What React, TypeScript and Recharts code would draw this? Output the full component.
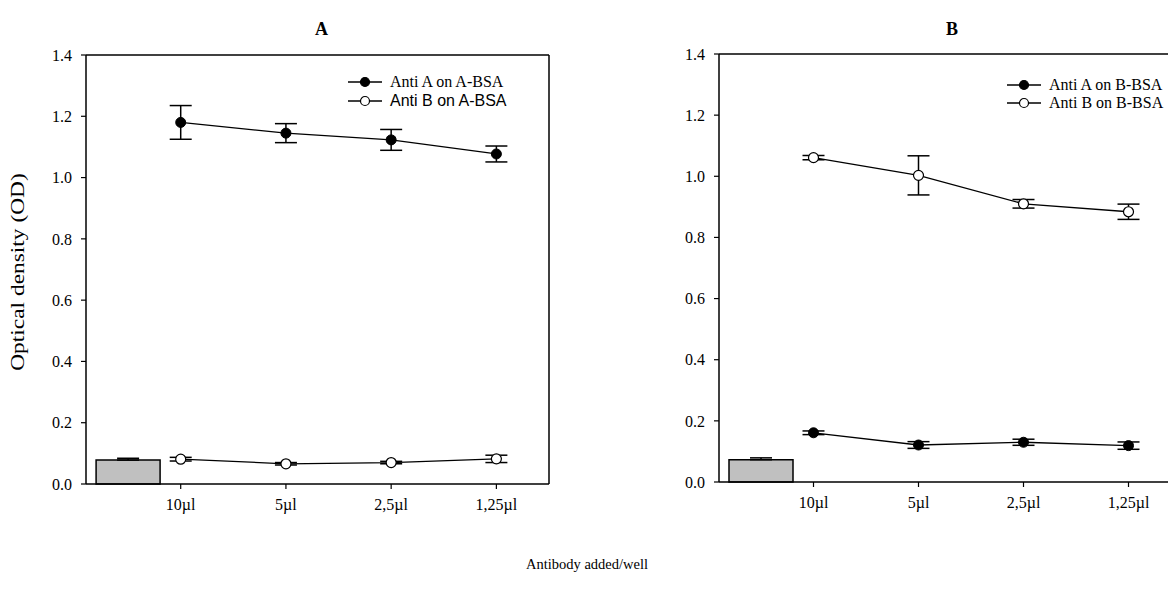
import { ComposedChart, Bar, Scatter, XAxis, YAxis, ErrorBar, ReferenceLine } from "recharts";

// dilutions of antibody per well, plotted at x = 1..4
const doses = ["10µl", "5µl", "2,5µl", "1,25µl"];
const dosePositions = [1, 2, 3, 4];
const controlPosition = 0.5;
const yTicks = [0, 0.2, 0.4, 0.6, 0.8, 1.0, 1.2, 1.4];

// plate coated with A-BSA
const antiAOnA = [1.18, 1.145, 1.123, 1.077];
const antiAOnAErr = [0.055, 0.031, 0.034, 0.026];
const antiBOnA = [0.081, 0.066, 0.07, 0.082];
const antiBOnAErr = [0.006, 0.004, 0.004, 0.012];
const controlA = 0.078;
const controlAErr = 0.006;

// plate coated with B-BSA
const antiAOnB = [0.161, 0.121, 0.13, 0.119];
const antiAOnBErr = [0.006, 0.011, 0.01, 0.012];
const antiBOnB = [1.061, 1.003, 0.91, 0.884];
const antiBOnBErr = [0.007, 0.064, 0.014, 0.025];
const controlB = 0.073;
const controlBErr = 0.006;

const serif = "'Liberation Serif', 'Times New Roman', serif";
const sans = "'Liberation Sans', Arial, sans-serif";
const X_DOMAIN: [number, number] = [0.1, 4.5];

const toPoints = (values: number[], errors: number[]) =>
  dosePositions.map((x, i) => ({ x, y: values[i], err: errors[i] }));

const FilledDot = (p: any) => <circle cx={p.cx} cy={p.cy} r={5} fill="#000" stroke="#000" strokeWidth={1} />;
const OpenDot = (p: any) => <circle cx={p.cx} cy={p.cy} r={5} fill="#fff" stroke="#000" strokeWidth={1.2} />;

const XTick = (p: any) => (
  <text x={p.x} y={p.y} dy="0.71em" textAnchor="middle" fontFamily={serif} fontSize={16} fill="#000">
    {doses[p.payload.value - 1]}
  </text>
);
const YTick = (p: any) => (
  <text x={p.x} y={p.y} dy="0.355em" textAnchor="end" fontFamily={serif} fontSize={16} fill="#000">
    {Number(p.payload.value).toFixed(1)}
  </text>
);

type Series = { name: string; values: number[]; errors: number[]; filled: boolean; font: string };

function Panel(props: {
  width: number;
  height: number;
  margin: { top: number; right: number; bottom: number; left: number };
  control: number;
  controlErr: number;
  series: Series[];
}) {
  const barData = [{ x: controlPosition, od: props.control, err: [0, props.controlErr] }];
  const axisLine = { stroke: "#000", strokeWidth: 1.5 };
  const tickLine = { stroke: "#000", strokeWidth: 1.2 };
  return (
    <ComposedChart
      width={props.width}
      height={props.height}
      margin={props.margin}
      data={barData}
      style={{ fontFamily: serif }}
    >
      <XAxis
        type="number"
        dataKey="x"
        domain={X_DOMAIN}
        ticks={dosePositions}
        allowDataOverflow
        height={30}
        tickSize={5}
        tickMargin={10}
        tick={XTick}
        axisLine={axisLine}
        tickLine={tickLine}
      />
      {/* separate hidden axis for the control bar so its band is one full step wide */}
      <XAxis
        xAxisId="bar"
        type="number"
        dataKey="x"
        domain={X_DOMAIN}
        ticks={[controlPosition, controlPosition + 1]}
        allowDataOverflow
        hide
      />
      <YAxis
        type="number"
        domain={[0, 1.4]}
        ticks={yTicks}
        width={60}
        tickSize={5}
        tickMargin={9}
        tick={YTick}
        axisLine={axisLine}
        tickLine={tickLine}
      />
      <ReferenceLine y={1.4} stroke="#000" strokeWidth={1.5} />
      <ReferenceLine x={X_DOMAIN[1]} stroke="#000" strokeWidth={1.5} />
      <Bar
        xAxisId="bar"
        dataKey="od"
        barSize={64}
        fill="#c0c0c0"
        stroke="#000"
        strokeWidth={1.5}
        isAnimationActive={false}
      >
        <ErrorBar dataKey="err" width={11} stroke="#000" strokeWidth={1.5} direction="y" />
      </Bar>
      {props.series.map((s) => (
        <Scatter
          key={s.name}
          name={s.name}
          data={toPoints(s.values, s.errors)}
          dataKey="y"
          shape={s.filled ? FilledDot : OpenDot}
          line={{ stroke: "#000", strokeWidth: 1.3 }}
          lineType="joint"
          isAnimationActive={false}
        >
          <ErrorBar dataKey="err" width={11} stroke="#000" strokeWidth={1.5} direction="y" />
        </Scatter>
      ))}
    </ComposedChart>
  );
}

function LegendBox(props: { left: number; top: number; rowGap: number; lineWidth: number; items: Series[] }) {
  return (
    <div style={{ position: "absolute", left: props.left, top: props.top }}>
      {props.items.map((s, i) => (
        <div
          key={s.name}
          style={{ position: "absolute", top: i * props.rowGap, left: 0, display: "flex", alignItems: "center", whiteSpace: "nowrap" }}
        >
          <svg width={props.lineWidth} height={12} style={{ marginRight: 8 }}>
            <line x1={0} y1={6} x2={props.lineWidth} y2={6} stroke="#000" strokeWidth={1.3} />
            <circle cx={props.lineWidth / 2} cy={6} r={4.5} fill={s.filled ? "#000" : "#fff"} stroke="#000" strokeWidth={1.2} />
          </svg>
          <span style={{ fontFamily: s.font, fontSize: 16, lineHeight: "18px" }}>{s.name}</span>
        </div>
      ))}
    </div>
  );
}

const seriesA: Series[] = [
  { name: "Anti A on A-BSA", values: antiAOnA, errors: antiAOnAErr, filled: true, font: serif },
  { name: "Anti B on A-BSA", values: antiBOnA, errors: antiBOnAErr, filled: false, font: sans },
];
const seriesB: Series[] = [
  { name: "Anti A on B-BSA", values: antiAOnB, errors: antiAOnBErr, filled: true, font: serif },
  { name: "Anti B on B-BSA", values: antiBOnB, errors: antiBOnBErr, filled: false, font: serif },
];

export default function App() {
  return (
    <div
      style={{
        position: "absolute",
        left: 0,
        top: 0,
        width: 1168,
        height: 604,
        overflow: "hidden",
        background: "#fff",
        fontFamily: serif,
        color: "#000",
      }}
    >
      <div style={{ position: "absolute", left: 0, top: 0 }}>
        <Panel
          width={560}
          height={520}
          margin={{ top: 55, right: 11, bottom: 6, left: 26 }}
          control={controlA}
          controlErr={controlAErr}
          series={seriesA}
        />
      </div>
      <div style={{ position: "absolute", left: 630, top: 0 }}>
        <Panel
          width={562}
          height={520}
          margin={{ top: 54, right: 11, bottom: 8, left: 29 }}
          control={controlB}
          controlErr={controlBErr}
          series={seriesB}
        />
      </div>

      <div style={{ position: "absolute", left: 90, width: 463, top: 19, textAlign: "center", fontWeight: "bold", fontSize: 18 }}>A</div>
      <div style={{ position: "absolute", left: 720, width: 464, top: 19, textAlign: "center", fontWeight: "bold", fontSize: 18 }}>B</div>

      <LegendBox left={348} top={73} rowGap={19} lineWidth={34} items={seriesA} />
      <LegendBox left={1007} top={76} rowGap={18} lineWidth={34} items={seriesB} />

      <div
        style={{
          position: "absolute",
          left: 18,
          top: 272,
          transform: "translate(-50%, -50%) rotate(-90deg) scaleX(1.3)",
          whiteSpace: "nowrap",
          fontSize: 18,
        }}
      >
        Optical density (OD)
      </div>
      <div style={{ position: "absolute", left: 0, width: 1174, top: 556, textAlign: "center", fontSize: 14.5 }}>
        Antibody added/well
      </div>
    </div>
  );
}
